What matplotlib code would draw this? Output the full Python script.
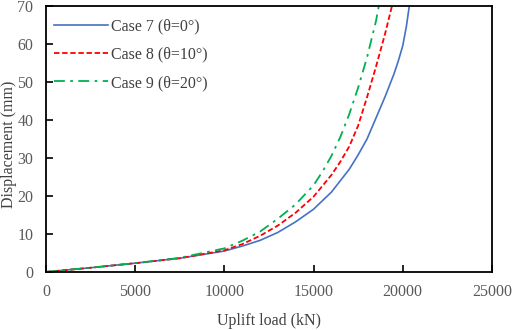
import matplotlib
matplotlib.use("Agg")
import matplotlib.pyplot as plt

plt.rcParams['font.family'] = ['Liberation Serif', 'DejaVu Serif']

# values (uplift load in kN, displacement in mm)
load_7 = [0, 2500, 5000, 7500, 10000, 11000, 12000, 13000, 14000, 15000, 16000, 17000, 17500, 18000, 18500, 19000, 19500, 19750, 20000, 20200, 20400]
disp_7 = [0, 1.1, 2.3, 3.6, 5.5, 6.8, 8.3, 10.4, 13.2, 16.5, 21.0, 27.0, 30.8, 35.0, 40.5, 46.0, 52.0, 55.5, 59.5, 64.5, 71.0]

load_8 = [0, 2500, 5000, 7500, 10000, 11000, 12000, 13000, 14000, 15000, 16000, 16500, 17000, 17500, 18000, 18500, 19000, 19450]
disp_8 = [0, 1.1, 2.3, 3.6, 5.7, 7.3, 9.5, 12.2, 15.6, 19.8, 25.5, 29.0, 33.0, 38.5, 46.0, 54.0, 62.5, 71.0]

load_9 = [0, 2500, 5000, 7500, 10000, 11000, 12000, 13000, 14000, 15000, 15500, 16000, 16500, 17000, 17500, 18000, 18500, 18700]
disp_9 = [0, 1.1, 2.3, 3.7, 6.2, 8.2, 10.6, 14.0, 17.8, 22.8, 26.4, 30.5, 35.5, 41.5, 48.5, 56.5, 66.0, 71.0]

labels = ["Case 7 (θ=0°)", "Case 8 (θ=10°)", "Case 9 (θ=20°)"]

fig = plt.figure(figsize=(5.12, 3.3), dpi=100)
ax = fig.add_axes([0.0898, 0.176, 0.871, 0.806])

ax.plot(load_7, disp_7, color="#4472C4", lw=1.2, ls="-", label=labels[0])
ax.plot(load_8, disp_8, color="#FF0000", lw=1.3, ls=(0, (3, 1.5)), label=labels[1])
ax.plot(load_9, disp_9, color="#00B050", lw=1.3, ls=(0, (6, 3, 1.5, 3)), label=labels[2])

ax.set_xlim(0, 25000)
ax.set_ylim(0, 70)
ax.set_xticks(range(0, 25001, 5000))
ax.set_yticks(range(0, 71, 10))
ax.tick_params(direction="in", length=5, width=1.2, labelsize=11.5, colors="black",
               labelcolor="#595959", pad=9)

for s in ax.spines.values():
    s.set_linewidth(1.3)
    s.set_color("black")

ax.set_xlabel("Uplift load (kN)", fontsize=11.5, color="#404040", labelpad=9)
ax.set_ylabel("Displacement (mm)", fontsize=11.5, color="#404040")
ax.yaxis.set_label_coords(-0.066, 0.48)

leg = ax.legend(loc="upper left", bbox_to_anchor=(0.004, 0.977), frameon=False,
                fontsize=11.5, handlelength=3.4, labelspacing=0.77,
                borderaxespad=0, handletextpad=0.15)
for t in leg.get_texts():
    t.set_color("#404040")

fig.savefig("out.png", dpi=100)
